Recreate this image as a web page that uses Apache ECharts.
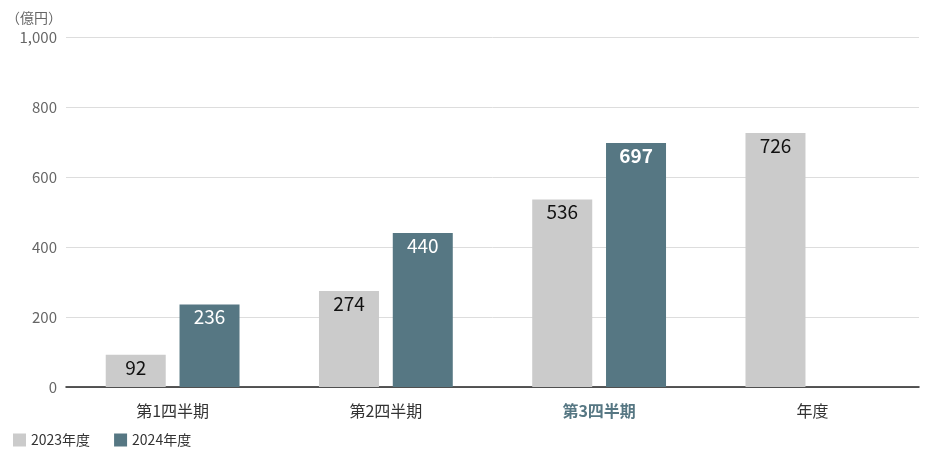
<!DOCTYPE html>
<html><head><meta charset="utf-8">
<script src="https://cdn.jsdelivr.net/npm/echarts@6/dist/echarts.min.js"></script>
<style>html,body{margin:0;padding:0;background:#fff}#c{width:936px;height:456px}</style>
</head><body><div id="c"></div>
<script>
const categories = ['第1四半期','第2四半期','第3四半期','年度'];
const seriesNames = ['2023年度','2024年度'];
const values2023 = [92, 274, 536, 726];
const values2024 = [236, 440, 697, null];
const yTicks = [0, 200, 400, 600, 800, 1000];
const highlightIndex = 2;

const FONT = '"Noto Sans CJK JP","Noto Sans",sans-serif';
const GRAY = '#cbcbcb', TEAL = '#567783';
const chart = echarts.init(document.getElementById('c'));
chart.setOption({
  animation: false,
  textStyle: { fontFamily: FONT },
  grid: { left: 66, right: 17, top: 37, bottom: 69, containLabel: false },
  legend: {
    left: 8, bottom: 4, itemWidth: 13, itemHeight: 13, itemGap: 24,
    icon: 'rect',
    textStyle: { fontSize: 14, color: '#333', fontFamily: FONT },
    data: seriesNames
  },
  xAxis: {
    type: 'category', data: categories,
    axisLine: { lineStyle: { color: '#222', width: 1.5 } },
    axisTick: { show: false },
    axisLabel: {
      fontSize: 16, margin: 16, color: '#333',
      formatter: (v, i) => i === highlightIndex ? '{h|' + v + '}' : v,
      rich: { h: { fontSize: 16, color: TEAL, fontWeight: 'bold', fontFamily: FONT } }
    }
  },
  yAxis: {
    type: 'value', min: yTicks[0], max: yTicks[yTicks.length-1], interval: 200,
    name: '（億円）', nameGap: 12,
    nameTextStyle: { color: '#666', fontSize: 14, align: 'right', padding: [0, 4, 0, 0] },
    axisLine: { show: false }, axisTick: { show: false },
    axisLabel: { color: '#666', fontSize: 15, margin: 9, formatter: v => v.toLocaleString('en-US') },
    splitLine: { lineStyle: { color: '#ddd', width: 1 } }
  },
  series: [
    { name: seriesNames[0], type: 'bar', data: values2023, barWidth: 60, barGap: '23%',
      itemStyle: { color: GRAY },
      label: { show: true, position: 'insideTop', distance: 3, color: '#111', fontSize: 19, fontFamily: FONT } },
    { name: seriesNames[1], type: 'bar', barWidth: 60,
      data: values2024.map((v, i) => i === highlightIndex ? { value: v, label: { fontWeight: 'bold' } } : v),
      itemStyle: { color: TEAL },
      label: { show: true, position: 'insideTop', distance: 3, color: '#fff', fontSize: 19, fontFamily: FONT } }
  ]
});
</script></body></html>
